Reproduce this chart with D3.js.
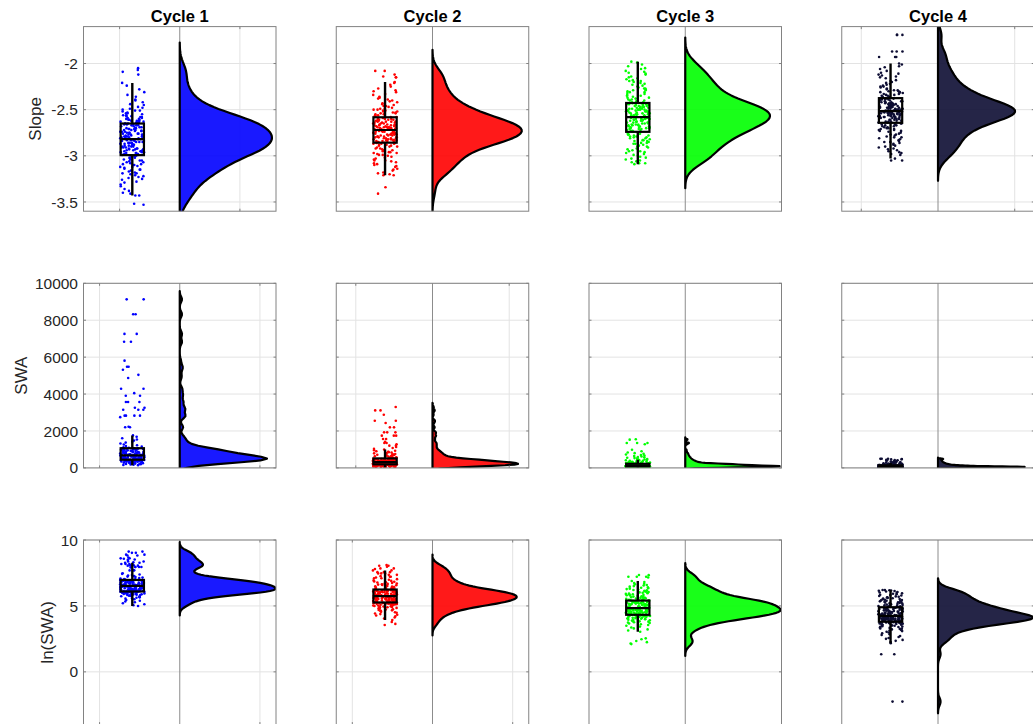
<!DOCTYPE html>
<html>
<head>
<meta charset="utf-8">
<script src="https://cdn.jsdelivr.net/npm/d3@7"></script>
<style>
  body { margin: 0; background: #fff; }
  svg { display: block; font-family: "Liberation Sans", Arial, Helvetica, sans-serif; }
</style>
</head>
<body>
<svg id="chart" width="1033" height="724"></svg>
<script>
// ---- data -------------------------------------------------------------
const cycles = ["Cycle 1", "Cycle 2", "Cycle 3", "Cycle 4"];
const rowLabels = ["Slope", "SWA", "ln(SWA)"];

const slopeTicks = [-3.5, -3, -2.5, -2];
const swaTicks = [0, 2000, 4000, 6000, 8000, 10000];
const lnSwaTicks = [0, 5, 10];

// slow-wave slope per wave, one list per cycle
const slopeC1 = [
  -2.05,-2.07,-2.09,-2.12,-2.21,-2.24,-2.28,-2.31,-2.34,-2.36,-2.39,
  -2.40,-2.42,-2.44,-2.45,-2.47,-2.48,-2.49,
  -2.50,-2.51,-2.51,-2.52,-2.53,-2.54,-2.54,-2.55,-2.56,-2.56,-2.57,-2.57,-2.58,-2.58,-2.59,-2.59,
  -2.60,-2.60,-2.61,-2.61,-2.61,-2.62,-2.62,-2.62,-2.63,-2.63,-2.63,-2.64,-2.64,-2.64,-2.65,-2.65,-2.65,
  -2.66,-2.66,-2.66,-2.67,-2.67,-2.67,-2.68,-2.68,-2.69,-2.69,
  -2.70,-2.70,-2.70,-2.71,-2.71,-2.71,-2.72,-2.72,-2.72,-2.73,-2.73,-2.73,-2.74,-2.74,-2.74,-2.75,
  -2.75,-2.75,-2.76,-2.76,-2.76,-2.77,-2.77,-2.77,-2.77,-2.78,-2.78,-2.78,-2.79,-2.79,-2.79,
  -2.80,-2.80,-2.80,-2.81,-2.81,-2.81,-2.82,-2.82,-2.82,-2.83,-2.83,-2.83,-2.84,-2.84,-2.84,
  -2.85,-2.85,-2.85,-2.86,-2.86,-2.86,-2.87,-2.87,-2.87,-2.88,-2.88,-2.88,-2.89,-2.89,-2.89,
  -2.90,-2.90,-2.90,-2.91,-2.91,-2.91,-2.92,-2.92,-2.92,-2.93,-2.93,-2.93,-2.94,-2.94,-2.94,
  -2.95,-2.95,-2.95,-2.96,-2.96,-2.96,-2.97,-2.97,-2.97,-2.98,-2.98,-2.99,-2.99,
  -3.00,-3.00,-3.01,-3.01,-3.02,-3.02,-3.03,-3.04,-3.04,-3.05,-3.05,-3.06,-3.07,-3.07,-3.08,-3.09,-3.09,
  -3.10,-3.10,-3.11,-3.12,-3.12,-3.13,-3.14,-3.15,-3.15,-3.16,-3.17,-3.18,-3.19,-3.19,
  -3.20,-3.21,-3.22,-3.23,-3.24,-3.25,-3.26,-3.28,-3.29,
  -3.31,-3.33,-3.36,-3.38,-3.40,-3.41,-3.43,-3.43,-3.52,-3.53
];
const slopeC2 = [
  -2.08,-2.08,-2.12,-2.14,-2.15,-2.15,-2.20,-2.21,-2.23,-2.25,-2.27,-2.29,
  -2.30,-2.31,-2.33,-2.34,-2.36,-2.37,-2.38,-2.39,
  -2.40,-2.41,-2.42,-2.43,-2.44,-2.45,-2.46,-2.46,-2.47,-2.48,-2.49,-2.49,
  -2.50,-2.50,-2.51,-2.51,-2.52,-2.52,-2.53,-2.53,-2.54,-2.54,-2.55,-2.55,-2.56,-2.56,-2.57,-2.57,-2.58,-2.58,-2.59,-2.59,
  -2.60,-2.60,-2.60,-2.61,-2.61,-2.61,-2.61,-2.62,-2.62,-2.62,-2.63,-2.63,-2.63,-2.63,-2.64,-2.64,-2.64,
  -2.65,-2.65,-2.65,-2.65,-2.66,-2.66,-2.66,-2.67,-2.67,-2.67,-2.67,-2.68,-2.68,-2.68,-2.69,-2.69,-2.69,-2.69,-2.69,
  -2.70,-2.70,-2.70,-2.70,-2.71,-2.71,-2.71,-2.71,-2.72,-2.72,-2.72,-2.72,-2.73,-2.73,-2.73,-2.73,-2.74,-2.74,-2.74,-2.74,
  -2.75,-2.75,-2.75,-2.75,-2.76,-2.76,-2.76,-2.76,-2.77,-2.77,-2.77,-2.77,-2.78,-2.78,-2.78,-2.79,-2.79,-2.79,
  -2.80,-2.80,-2.80,-2.80,-2.81,-2.81,-2.81,-2.81,-2.82,-2.82,-2.82,-2.82,-2.83,-2.83,-2.83,-2.83,
  -2.84,-2.84,-2.84,-2.85,-2.85,-2.85,-2.86,-2.86,-2.86,-2.87,-2.87,-2.87,-2.88,-2.88,-2.89,-2.89,
  -2.90,-2.90,-2.91,-2.92,-2.92,-2.93,-2.94,-2.94,-2.95,-2.96,-2.96,-2.97,-2.97,-2.98,-2.99,-2.99,
  -3.00,-3.01,-3.02,-3.03,-3.04,-3.05,-3.05,-3.06,-3.07,-3.08,-3.09,
  -3.10,-3.11,-3.12,-3.14,-3.15,-3.16,-3.18,-3.19,-3.20,-3.21,-3.21,
  -3.34,-3.41
];
const slopeC3 = [
  -1.98,-1.99,-2.01,-2.03,-2.05,-2.06,-2.08,-2.09,
  -2.10,-2.11,-2.12,-2.14,-2.15,-2.16,-2.17,-2.18,-2.19,-2.19,
  -2.20,-2.21,-2.22,-2.23,-2.24,-2.25,-2.26,-2.27,-2.27,-2.28,-2.29,-2.29,
  -2.30,-2.31,-2.31,-2.32,-2.33,-2.34,-2.35,-2.35,-2.36,-2.37,-2.37,-2.38,-2.39,-2.39,-2.40,-2.40,-2.41,-2.41,-2.42,-2.42,
  -2.43,-2.43,-2.43,-2.44,-2.44,-2.44,-2.45,-2.45,-2.45,-2.46,-2.46,-2.46,-2.47,-2.47,-2.47,-2.48,-2.48,-2.48,-2.49,-2.49,-2.49,
  -2.50,-2.50,-2.50,-2.50,-2.51,-2.51,-2.51,-2.51,-2.52,-2.52,-2.52,-2.52,-2.53,-2.53,-2.53,-2.53,
  -2.54,-2.54,-2.54,-2.55,-2.55,-2.55,-2.56,-2.56,-2.56,-2.57,-2.57,-2.57,-2.58,
  -2.58,-2.58,-2.58,-2.59,-2.59,-2.59,-2.59,-2.60,-2.60,-2.60,-2.60,-2.61,-2.61,-2.61,-2.61,
  -2.62,-2.62,-2.62,-2.63,-2.63,-2.63,-2.64,-2.64,-2.64,-2.65,-2.65,-2.65,-2.66,-2.66,-2.66,
  -2.67,-2.67,-2.67,-2.68,-2.68,-2.68,-2.69,-2.69,-2.69,-2.70,-2.70,-2.70,-2.71,-2.71,-2.71,
  -2.72,-2.72,-2.73,-2.73,-2.74,
  -2.74,-2.75,-2.75,-2.76,-2.76,-2.77,-2.77,-2.78,-2.78,-2.79,-2.79,-2.80,-2.80,-2.81,-2.81,
  -2.82,-2.83,-2.83,-2.84,-2.84,-2.85,-2.86,
  -2.86,-2.87,-2.87,-2.88,-2.89,-2.90,-2.90,-2.91,-2.92,-2.93,-2.94,-2.95,-2.95,-2.96,
  -2.97,-2.98,-2.99,-3.00,-3.01,-3.02,-3.03,-3.04,-3.05,-3.06,-3.07,-3.08,-3.08,-3.09
];
const slopeC4 = [
  -1.69,-1.69,-1.69,-1.87,-1.87,-1.87,-1.93,-1.93,-1.93,
  -2.00,-2.01,-2.03,-2.04,-2.06,-2.08,
  -2.10,-2.11,-2.12,-2.13,-2.14,-2.15,-2.16,-2.18,-2.19,
  -2.20,-2.21,-2.22,-2.23,-2.24,-2.25,-2.25,-2.26,-2.27,-2.28,-2.29,-2.29,
  -2.30,-2.30,-2.31,-2.31,-2.32,-2.32,-2.33,-2.33,-2.34,-2.34,-2.35,-2.35,-2.36,-2.36,
  -2.38,-2.38,-2.38,-2.39,-2.39,-2.39,-2.40,-2.40,-2.40,-2.41,-2.41,-2.41,-2.42,-2.42,-2.42,
  -2.43,-2.43,-2.43,-2.44,-2.44,-2.44,-2.44,-2.45,-2.45,-2.45,-2.45,-2.46,-2.46,-2.46,-2.46,
  -2.47,-2.47,-2.47,-2.47,-2.48,-2.48,-2.48,-2.48,-2.49,-2.49,-2.49,-2.49,
  -2.50,-2.50,-2.50,-2.50,-2.51,-2.51,-2.51,-2.51,
  -2.52,-2.52,-2.52,-2.52,-2.52,-2.53,-2.53,-2.53,-2.53,-2.53,-2.54,-2.54,-2.54,-2.54,-2.54,
  -2.55,-2.55,-2.55,-2.55,-2.55,-2.56,-2.56,-2.56,-2.56,-2.57,-2.57,-2.57,-2.57,
  -2.58,-2.58,-2.58,-2.58,-2.59,-2.59,-2.59,-2.60,-2.60,-2.60,-2.61,-2.61,-2.61,
  -2.62,-2.62,-2.62,-2.63,-2.63,-2.63,-2.64,-2.64,-2.64,
  -2.65,-2.65,-2.66,-2.66,-2.67,-2.67,-2.68,-2.68,-2.69,-2.69,-2.70,-2.70,-2.71,-2.71,-2.72,-2.72,-2.73,-2.73,-2.74,-2.75,
  -2.76,-2.77,-2.77,-2.78,-2.79,-2.80,-2.80,-2.81,-2.82,-2.83,-2.84,-2.85,-2.85,
  -2.86,-2.87,-2.88,-2.89,-2.90,-2.91,-2.92,-2.93,-2.94,
  -2.95,-2.96,-2.97,-2.98,-2.99,-3.03,-3.05,-3.05
];

// slow-wave activity per wave, one list per cycle
const swaC1 = [
  148,157,169,181,196,208,221,233,246,258,267,276,285,293,301,309,316,323,330,337,
  343,349,355,360,366,371,376,381,386,390,395,399,403,407,411,414,418,421,424,427,
  429,431,433,434,436,437,438,440,441,443,446,450,455,459,463,468,472,476,481,485,
  489,494,498,503,507,511,516,520,525,529,534,538,543,548,552,557,562,567,572,577,
  582,587,592,597,602,607,612,618,623,629,634,640,645,651,657,662,668,673,677,681,
  686,692,698,704,710,716,723,729,736,742,749,756,763,770,777,784,792,799,807,815,
  823,831,839,848,856,865,874,883,892,902,911,921,931,941,951,962,972,983,994,1005,
  1012,1020,1028,1035,1042,1049,1055,1060,1064,1068,
  1090,1120,1150,1190,1230,1270,1320,1370,1420,1480,1540,1610,1690,1760,2200,2200,2230,
  2750,2830,2830,2830,2830,3150,3150,3150,3260,3260,3570,3570,3570,3910,3910,4050,4290,4290,
  4870,5040,5320,5480,5480,5810,
  6830,6830,7260,7260,8320,8320,9130,9130
];
const swaC2 = [
  35,38,44,51,57,62,67,72,76,80,84,88,92,96,99,103,106,110,113,116,
  119,122,125,128,131,134,136,139,142,144,147,149,152,154,157,159,161,163,165,168,
  170,172,174,176,177,179,181,182,184,186,188,190,
  192,194,196,198,200,202,204,206,208,211,213,215,217,219,221,223,226,228,230,232,
  234,237,239,241,243,246,248,250,252,255,257,259,262,264,266,269,271,273,276,278,
  280,283,285,287,290,292,294,296,298,301,303,305,
  308,311,314,317,320,323,326,329,332,335,338,341,345,348,351,355,358,361,365,368,
  372,375,379,383,386,390,394,398,401,405,409,413,417,421,425,429,433,437,441,445,
  449,453,457,461,465,469,473,477,481,485,489,493,
  500,510,520,531,542,553,565,577,590,603,617,631,646,662,678,695,712,730,749,768,
  788,808,830,852,875,898,925,955,990,1030,1080,1130,1205,1205,1280,1351,1351,1420,1567,
  1567,1746,1746,1746,1925,1925,1925,2196,2196,2432,2557,2557,2881,3114,3114,3300
];
const swaC3 = [
  8.2,8.6,9.5,10.4,11.8,12.7,21,23,25,27,29,31,33,35,37,39,
  41,42,43,45,46,47,49,50,51,52,53,54,55,56,57,58,59,60,61,62,
  63,64,64,65,66,67,68,68,69,70,71,72,72,73,74,75,
  76,77,78,79,80,81,82,83,84,85,86,87,88,88,89,90,91,92,93,94,
  95,96,97,98,99,100,101,102,103,103,104,105,106,107,108,109,110,111,112,113,
  114,115,116,117,118,119,120,121,122,123,124,125,
  127,129,131,133,135,137,139,141,143,145,147,149,151,153,155,157,159,161,163,165,
  167,169,171,173,175,177,179,181,183,185,187,189,191,193,195,197,199,201,203,205,
  207,209,211,213,215,216,217,218,219,220,221,222,
  226,231,236,242,248,254,260,266,273,280,287,294,301,309,317,325,333,342,351,360,
  370,380,391,402,414,426,439,452,466,481,497,514,532,551,571,592,615,640,667,696,
  727,761,798,838,905,980,1280,1350,1350,1350,1530,1550
];
const swaC4 = [
  0.105,0.105,3.8,3.8,8.8,9.6,10.5,11.3,12.2,13.0,14.1,15.2,16.3,17.4,18.6,19.8,
  21,22,23,24,25,26,26.5,27,28,29,30,30.5,31,32,33,33.5,34,35,35.5,36,
  37,37.5,38,38.5,39,39.5,40,40.5,41,41.5,42,42.5,43,43.5,44,44.5,
  45,45,46,46,47,48,48,49,49,50,50,51,51,52,52,53,53,54,54,55,
  55,55,56,56,57,57,58,58,59,59,60,60,60,61,61,62,62,63,63,63,
  64,64,65,65,65,66,66,67,67,68,68,69,
  70,70,71,72,73,73,74,75,76,77,78,79,80,81,82,83,84,85,86,87,
  88,89,91,92,93,95,96,97,99,100,101,103,104,106,107,109,110,112,114,115,
  117,118,120,121,123,124,126,127,129,130,132,134,
  136,139,142,145,148,151,154,157,160,164,167,171,175,179,183,187,191,196,200,205,
  210,215,220,226,232,238,244,251,258,265,272,280,288,297,306,316,326,337,348,360,
  372,385,398,412,427,443,460,470,478,489,498,498
];

// ---- styling and layout ---------------------------------------------
const cycleColors = ["#0000ff", "#ff0000", "#00ff00", "#0d0d33"];
const W = 192.5, H = 184.6;
const colLeft = c => 83.5 + c * 252.75;
const rowTop = [26.6, 283.3, 540];
const labelBaseX = [40.5, 26.7, 53];
// how far each half-violin reaches toward the right frame (fraction of half-width)
const cloudReach = [[0.958, 0.927, 0.88, 0.80], [0.906, 0.888, 0.98, 0.90], [0.995, 0.875, 0.99, 0.99]];
// density-axis grid line offsets (fraction of half-width), null when out of range
const densGrid = [[0.625, null, null, 0.797], [0.833, 0.797, null, null], [0.833, 0.833, null, null]];
const boxCenter = -0.493, boxHalf = 0.121, jitterHalf = 0.127;

const rows = [
  { label: rowLabels[0], series: [slopeC1, slopeC2, slopeC3, slopeC4], domain: [-3.6, -1.6], ticks: slopeTicks },
  { label: rowLabels[1], series: [swaC1, swaC2, swaC3, swaC4], domain: [0, 10000], ticks: swaTicks },
  { label: rowLabels[2], series: [swaC1, swaC2, swaC3, swaC4].map(a => a.map(Math.log)), domain: [-4, 10], ticks: lnSwaTicks }
];

// Gaussian kernel density with a normal-reference bandwidth from the MAD
function kernelDensity(vals) {
  const n = vals.length;
  const med = d3.median(vals);
  const sig = d3.median(vals, v => Math.abs(v - med)) / 0.6745;
  const u = sig * Math.pow(4 / (3 * n), 0.2);
  const lo = d3.min(vals) - 3 * u, hi = d3.max(vals) + 3 * u;
  const k = 1 / (n * u * Math.sqrt(2 * Math.PI));
  return d3.range(100).map(i => {
    const t = lo + (hi - lo) * i / 99;
    return [t, k * d3.sum(vals, v => Math.exp(-0.5 * ((t - v) / u) ** 2))];
  });
}

function boxStats(vals) {
  const s = vals.slice().sort(d3.ascending);
  const q1 = d3.quantileSorted(s, 0.25), q3 = d3.quantileSorted(s, 0.75), md = d3.quantileSorted(s, 0.5);
  const iqr = q3 - q1;
  const lo = d3.min(s.filter(v => v > q1 - 1.5 * iqr));
  const hi = d3.max(s.filter(v => v < q3 + 1.5 * iqr));
  return { q1, q3, md, lo, hi };
}

const svg = d3.select("#chart");
const defs = svg.append("defs");

rows.forEach((row, r) => {
  const top = rowTop[r];
  const y = d3.scaleLinear().domain(row.domain).range([top + H, top]);

  row.series.forEach((vals, c) => {
    const left = colLeft(c);
    const x = d3.scaleLinear().domain([-1, 1]).range([left, left + W]);
    const color = cycleColors[c];
    const g = svg.append("g");

    const clipId = `clip-${r}-${c}`;
    defs.append("clipPath").attr("id", clipId)
      .append("rect").attr("x", left).attr("y", top).attr("width", W).attr("height", H);

    // grid
    g.append("g").selectAll("line").data(row.ticks).join("line")
      .attr("x1", left).attr("x2", left + W)
      .attr("y1", d => y(d)).attr("y2", d => y(d))
      .attr("stroke", "#e3e3e3").attr("stroke-width", 1);
    const gx = densGrid[r][c];
    const gridXs = gx == null ? [] : [-gx, gx];
    g.append("g").selectAll("line").data(gridXs).join("line")
      .attr("x1", d => x(d)).attr("x2", d => x(d))
      .attr("y1", top).attr("y2", top + H)
      .attr("stroke", "#e3e3e3").attr("stroke-width", 1);
    // zero line of the density axis
    g.append("line").attr("x1", x(0)).attr("x2", x(0)).attr("y1", top).attr("y2", top + H)
      .attr("stroke", "#8c8c8c").attr("stroke-width", 1);

    const plot = g.append("g").attr("clip-path", `url(#${clipId})`);

    // cloud: half violin
    const dens = kernelDensity(vals);
    const fMax = d3.max(dens, d => d[1]);
    const reach = cloudReach[r][c];
    plot.append("path").datum(dens)
      .attr("d", d3.area()
        .y(d => y(d[0]))
        .x0(x(0))
        .x1(d => x(d[1] / fMax * reach)))
      .attr("fill", color).attr("fill-opacity", 0.9)
      .attr("stroke", "#000").attr("stroke-width", 2.2).attr("stroke-linejoin", "round");

    // rain: jittered points
    const rng = d3.randomUniform.source(d3.randomLcg(0.1 + 0.07 * (r * 4 + c)))(-jitterHalf, jitterHalf);
    plot.append("g").selectAll("circle").data(vals).join("circle")
      .attr("cx", () => x(boxCenter + rng()))
      .attr("cy", d => y(d))
      .attr("r", 1.3)
      .attr("fill", color);

    // box and whiskers
    const b = boxStats(vals);
    const bx = x(boxCenter);
    const bw = x(boxCenter + boxHalf) - x(boxCenter - boxHalf);
    plot.append("line").attr("x1", bx).attr("x2", bx).attr("y1", y(b.q3)).attr("y2", y(b.hi))
      .attr("stroke", "#000").attr("stroke-width", 2.4);
    plot.append("line").attr("x1", bx).attr("x2", bx).attr("y1", y(b.q1)).attr("y2", y(b.lo))
      .attr("stroke", "#000").attr("stroke-width", 2.4);
    plot.append("rect")
      .attr("x", bx - bw / 2).attr("width", bw)
      .attr("y", y(b.q3)).attr("height", y(b.q1) - y(b.q3))
      .attr("fill", "none").attr("stroke", "#000").attr("stroke-width", 2.2);
    plot.append("line").attr("x1", bx - bw / 2).attr("x2", bx + bw / 2)
      .attr("y1", y(b.md)).attr("y2", y(b.md))
      .attr("stroke", "#000").attr("stroke-width", 2.2);

    // frame and inward ticks
    g.append("rect").attr("x", left).attr("y", top).attr("width", W).attr("height", H)
      .attr("fill", "none").attr("stroke", "#828282").attr("stroke-width", 1);
    const tl = 2.5;
    row.ticks.forEach(t => {
      g.append("line").attr("x1", left).attr("x2", left + tl).attr("y1", y(t)).attr("y2", y(t)).attr("stroke", "#828282");
      g.append("line").attr("x1", left + W - tl).attr("x2", left + W).attr("y1", y(t)).attr("y2", y(t)).attr("stroke", "#828282");
    });
    gridXs.forEach(t => {
      g.append("line").attr("x1", x(t)).attr("x2", x(t)).attr("y1", top).attr("y2", top + tl).attr("stroke", "#828282");
      g.append("line").attr("x1", x(t)).attr("x2", x(t)).attr("y1", top + H - tl).attr("y2", top + H).attr("stroke", "#828282");
    });

    // tick labels on the first column only
    if (c === 0) {
      g.append("g").selectAll("text").data(row.ticks).join("text")
        .attr("x", left - 5.5).attr("y", d => y(d)).attr("dy", "0.36em")
        .attr("text-anchor", "end").attr("font-size", 15.5).attr("fill", "#262626")
        .text(d => String(d));
      svg.append("text")
        .attr("transform", `translate(${labelBaseX[r]},${top + H / 2}) rotate(-90)`)
        .attr("text-anchor", "middle").attr("font-size", 17).attr("fill", "#262626")
        .text(row.label);
    }
    if (r === 0) {
      svg.append("text").attr("x", left + W / 2).attr("y", 22)
        .attr("text-anchor", "middle").attr("font-size", 16.5).attr("font-weight", "bold").attr("fill", "#000")
        .text(cycles[c]);
    }
  });
});
</script>
</body>
</html>
